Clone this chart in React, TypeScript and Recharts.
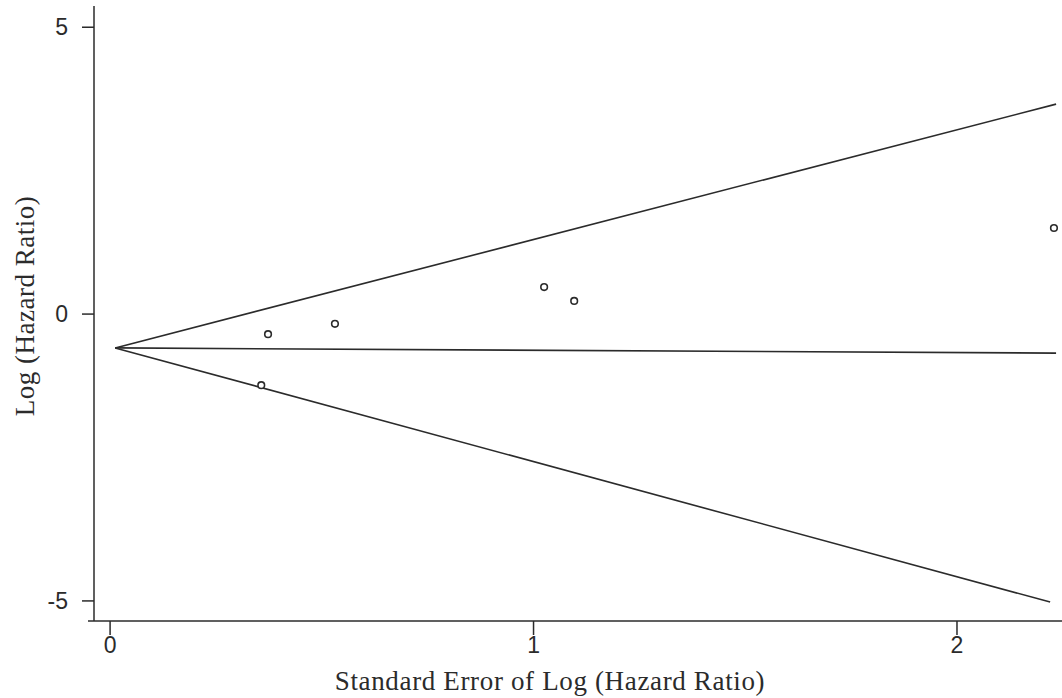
import { Label, Scatter, ScatterChart, XAxis, YAxis } from 'recharts';

// study estimates (standard error vs log hazard ratio)
const studySE = [0.357, 0.373, 0.531, 1.025, 1.096, 2.229];
const studyLogHR = [-1.24, -0.35, -0.17, 0.47, 0.23, 1.5];

// funnel: pooled estimate line and pseudo 95% limits
const funnelSE = [0.012, 2.234];
const lowerSE = [0.012, 2.22];
const centreLine = [-0.59, -0.68];
const upperLimit = [-0.59, 3.66];
const lowerLimit = [-0.59, -5.02];

const xTicks = [0, 1, 2];
const yTicks = [-5, 0, 5];

const ink = '#2b2b2b';
const sans = "'Liberation Sans', Arial, sans-serif";
const serif = "'Liberation Serif', 'Times New Roman', serif";

const points = studySE.map((se, i) => ({ se, lhr: studyLogHR[i] }));
const centre = funnelSE.map((se, i) => ({ se, lhr: centreLine[i] }));
const upper = funnelSE.map((se, i) => ({ se, lhr: upperLimit[i] }));
const lower = lowerSE.map((se, i) => ({ se, lhr: lowerLimit[i] }));

const noDot = () => <g />;
const ring = (p: any) => (
  <circle cx={p.cx} cy={p.cy} r={3.3} fill="#fff" stroke={ink} strokeWidth={1.6} />
);

export default function App() {
  return (
    <div style={{ position: 'absolute', left: 0, top: 0, background: '#fff' }}>
      <ScatterChart width={1062} height={698} margin={{ top: 6, right: 0, bottom: 0, left: 0 }}>
        <XAxis
          type="number"
          dataKey="se"
          domain={[-0.038, 2.248]}
          ticks={xTicks}
          allowDataOverflow
          tickSize={14}
          tickMargin={2}
          height={77}
          axisLine={{ stroke: ink, strokeWidth: 1.5 }}
          tickLine={{ stroke: ink, strokeWidth: 1.5 }}
          tick={{ fill: ink, fontSize: 23, fontFamily: sans }}
        >
          <Label
            content={({ viewBox }: any) => (
              <g>
                {/* axis line runs a little past the y axis, as in the source */}
                <line x1={88} x2={viewBox.x} y1={viewBox.y} y2={viewBox.y} stroke={ink} strokeWidth={1.5} />
                <text
                  x={550}
                  y={viewBox.y + 69}
                  textAnchor="middle"
                  fill={ink}
                  fontSize={27}
                  letterSpacing={0.65}
                  fontFamily={serif}
                >
                  Standard Error of Log (Hazard Ratio)
                </text>
              </g>
            )}
          />
        </XAxis>
        <YAxis
          type="number"
          dataKey="lhr"
          domain={[-5.35, 5.37]}
          ticks={yTicks}
          allowDataOverflow
          width={94}
          tickSize={12}
          tickMargin={14}
          axisLine={{ stroke: ink, strokeWidth: 1.5 }}
          tickLine={{ stroke: ink, strokeWidth: 1.5 }}
          tick={{ fill: ink, fontSize: 23, fontFamily: sans }}
        >
          <Label
            content={() => (
              <text
                x={0}
                y={0}
                transform="translate(34 306) rotate(-90)"
                textAnchor="middle"
                fill={ink}
                fontSize={27}
                letterSpacing={0.5}
                fontFamily={serif}
              >
                Log (Hazard Ratio)
              </text>
            )}
          />
        </YAxis>
        <Scatter data={upper} line={{ stroke: ink, strokeWidth: 1.6 }} shape={noDot} isAnimationActive={false} />
        <Scatter data={centre} line={{ stroke: ink, strokeWidth: 1.6 }} shape={noDot} isAnimationActive={false} />
        <Scatter data={lower} line={{ stroke: ink, strokeWidth: 1.6 }} shape={noDot} isAnimationActive={false} />
        <Scatter data={points} shape={ring} isAnimationActive={false} />
      </ScatterChart>
    </div>
  );
}
